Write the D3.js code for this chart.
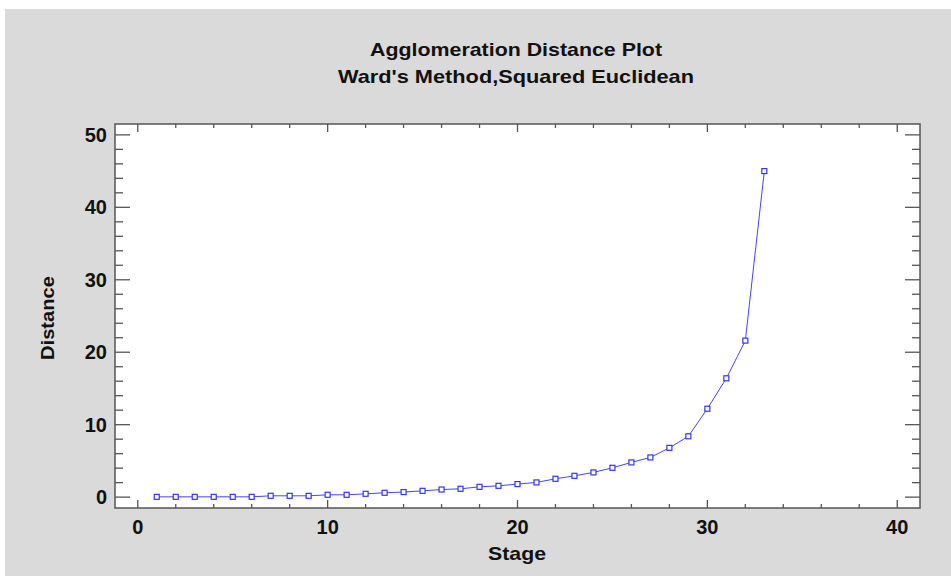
<!DOCTYPE html>
<html>
<head>
  <script src="https://d3js.org/d3.v7.min.js"></script>
  <style>
    body { margin: 0; background: #ffffff; }
    text { font-family: "Liberation Sans", Arial, sans-serif; font-weight: bold; fill: #111; }
  </style>
</head>
<body>
<svg id="chart"></svg>
<script>
  // data
  var stages = d3.range(1, 34);
  var distances = [0.04, 0.04, 0.04, 0.04, 0.04, 0.04, 0.18, 0.18, 0.18, 0.32,
    0.32, 0.46, 0.6, 0.7, 0.87, 1.05, 1.15, 1.42, 1.56, 1.8,
    2.03, 2.53, 2.94, 3.41, 4.05, 4.79, 5.48, 6.8, 8.4, 12.2,
    16.4, 21.6, 45.0];
  var xTicks = [0, 10, 20, 30, 40];
  var yTicks = [0, 10, 20, 30, 40, 50];

  var width = 951, height = 576;
  var pLeft = 115, pRight = 920, pTop = 124, pBottom = 508;

  var svg = d3.select("#chart").attr("width", width).attr("height", height);

  svg.append("rect")
    .attr("x", 5).attr("y", 9)
    .attr("width", width - 5).attr("height", height - 9)
    .attr("fill", "#dadada");

  svg.append("rect")
    .attr("x", pLeft).attr("y", pTop)
    .attr("width", pRight - pLeft).attr("height", pBottom - pTop)
    .attr("fill", "white");

  var x = d3.scaleLinear().domain([-1.2, 41.2]).range([pLeft, pRight]);
  var y = d3.scaleLinear().domain([-1.5, 51.5]).range([pBottom, pTop]);

  var xMinor = d3.range(0, 41, 2);
  var yMinor = d3.range(0, 51, 2);

  // inward ticks on all four sides
  function xAxisTicks(yPos, dir) {
    svg.append("g").selectAll("line")
      .data(xMinor).enter().append("line")
      .attr("x1", d => x(d)).attr("x2", d => x(d))
      .attr("y1", yPos)
      .attr("y2", d => yPos + dir * (d % 10 == 0 ? 8 : 4))
      .attr("stroke", "#555").attr("stroke-width", 1.3);
  }
  function yAxisTicks(xPos, dir) {
    svg.append("g").selectAll("line")
      .data(yMinor).enter().append("line")
      .attr("y1", d => y(d)).attr("y2", d => y(d))
      .attr("x1", xPos)
      .attr("x2", d => xPos + dir * (d % 10 == 0 ? 15 : 8))
      .attr("stroke", "#555").attr("stroke-width", 1.3);
  }
  xAxisTicks(pBottom, -1);
  xAxisTicks(pTop, 1);
  yAxisTicks(pLeft, 1);
  yAxisTicks(pRight, -1);

  svg.append("rect")
    .attr("x", pLeft).attr("y", pTop)
    .attr("width", pRight - pLeft).attr("height", pBottom - pTop)
    .attr("fill", "none")
    .attr("stroke", "#555").attr("stroke-width", 1.5);

  svg.append("g").selectAll("text")
    .data(xTicks).enter().append("text")
    .attr("x", d => x(d)).attr("y", 534)
    .attr("text-anchor", "middle")
    .style("font-size", "20px")
    .text(d => d);

  svg.append("g").selectAll("text")
    .data(yTicks).enter().append("text")
    .attr("x", 107).attr("y", d => y(d) + 7)
    .attr("text-anchor", "end")
    .style("font-size", "20px")
    .text(d => d);

  var line = d3.line()
    .x((d, i) => x(stages[i]))
    .y(d => y(d));

  svg.append("path")
    .datum(distances)
    .attr("d", line)
    .attr("fill", "none")
    .attr("stroke", "#4444ff")
    .attr("stroke-width", 1);

  svg.append("g").selectAll("rect")
    .data(distances).enter().append("rect")
    .attr("x", (d, i) => x(stages[i]) - 2.5)
    .attr("y", d => y(d) - 2.5)
    .attr("width", 5).attr("height", 5)
    .attr("fill", "white")
    .attr("stroke", "#3333ff")
    .attr("stroke-width", 1.2);

  svg.append("text")
    .attr("x", 516).attr("y", 56)
    .attr("text-anchor", "middle")
    .attr("textLength", 292).attr("lengthAdjust", "spacingAndGlyphs")
    .style("font-size", "19px")
    .text("Agglomeration Distance Plot");

  svg.append("text")
    .attr("x", 516).attr("y", 83)
    .attr("text-anchor", "middle")
    .attr("textLength", 356).attr("lengthAdjust", "spacingAndGlyphs")
    .style("font-size", "19px")
    .text("Ward's Method,Squared Euclidean");

  svg.append("text")
    .attr("x", 517).attr("y", 560)
    .attr("text-anchor", "middle")
    .attr("textLength", 58).attr("lengthAdjust", "spacingAndGlyphs")
    .style("font-size", "19px")
    .text("Stage");

  svg.append("text")
    .attr("transform", "translate(54,318) rotate(-90)")
    .attr("text-anchor", "middle")
    .attr("textLength", 84).attr("lengthAdjust", "spacingAndGlyphs")
    .style("font-size", "19px")
    .text("Distance");
</script>
</body>
</html>
